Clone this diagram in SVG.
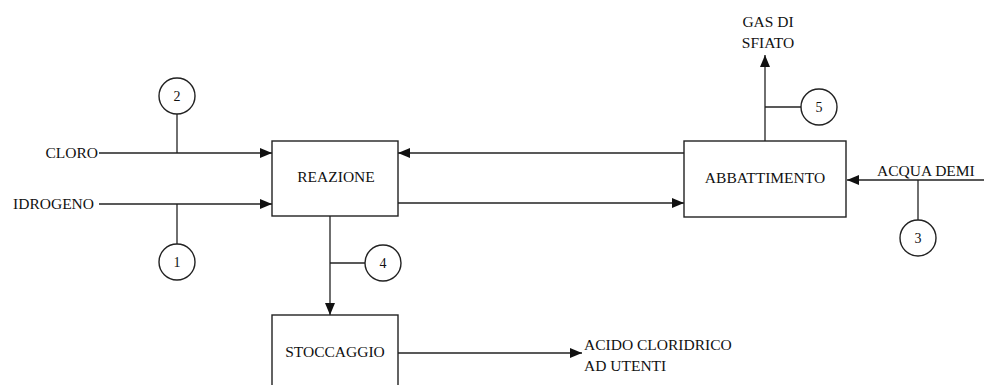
<svg xmlns="http://www.w3.org/2000/svg" width="984" height="385" viewBox="0 0 984 385">
<defs>
<marker id="arr" markerWidth="12" markerHeight="10" refX="12" refY="5" orient="auto" markerUnits="userSpaceOnUse">
<path d="M0,0 L12,5 L0,10 Z" fill="#111"/>
</marker>
<style>
.box{fill:#fff;stroke:#222;stroke-width:1.4}
.ln{fill:none;stroke:#222;stroke-width:1.3}
.circ{fill:#fff;stroke:#222;stroke-width:1.4}
.t{font-family:'Liberation Serif','Times New Roman','DejaVu Serif',serif;font-size:15.5px;fill:#111}
.num{font-size:14px;text-anchor:middle}
.c{text-anchor:middle}
</style>
</defs>
<rect width="984" height="385" fill="#fff"/>
<g id="connectors">
<path class="ln" d="M99,153 H272" marker-end="url(#arr)"/>
<path class="ln" d="M99,204 H272" marker-end="url(#arr)"/>
<path class="ln" d="M177,114 V153"/>
<path class="ln" d="M177,204 V244"/>
<path class="ln" d="M684,153 H398" marker-end="url(#arr)"/>
<path class="ln" d="M398,203 H684" marker-end="url(#arr)"/>
<path class="ln" d="M765,141 V55" marker-end="url(#arr)"/>
<path class="ln" d="M765,107 H801"/>
<path class="ln" d="M984,180 H847" marker-end="url(#arr)"/>
<path class="ln" d="M918,180 V220"/>
<path class="ln" d="M330,216 V315" marker-end="url(#arr)"/>
<path class="ln" d="M330,263 H365"/>
<path class="ln" d="M398,353 H582" marker-end="url(#arr)"/>
</g>
<g class="t" font-family="Liberation Serif, Times New Roman, serif">
<g id="reazione"><rect class="box" x="272" y="141" width="126" height="75"/><text class="c" x="336" y="182">REAZIONE</text></g>
<g id="abbattimento"><rect class="box" x="684" y="141" width="162" height="76"/><text class="c" x="765" y="183">ABBATTIMENTO</text></g>
<g id="stoccaggio"><rect class="box" x="272" y="315" width="126" height="80"/><text class="c" x="335" y="357">STOCCAGGIO</text></g>
<g id="cloro"><text x="98" y="158" text-anchor="end">CLORO</text></g>
<g id="idrogeno"><text x="94" y="209" text-anchor="end">IDROGENO</text></g>
<g id="gas"><text class="c" x="768" y="27">GAS DI</text><text class="c" x="768" y="48">SFIATO</text></g>
<g id="acqua"><text x="877" y="176">ACQUA DEMI</text></g>
<g id="acido"><text x="584" y="350">ACIDO CLORIDRICO</text><text x="584" y="371">AD UTENTI</text></g>
<g id="p1"><circle class="circ" cx="177" cy="262" r="18"/><text class="num" x="177" y="267">1</text></g>
<g id="p2"><circle class="circ" cx="177" cy="96" r="18"/><text class="num" x="177" y="101">2</text></g>
<g id="p3"><circle class="circ" cx="918" cy="238" r="18"/><text class="num" x="918" y="243">3</text></g>
<g id="p4"><circle class="circ" cx="383" cy="263" r="18"/><text class="num" x="383" y="268">4</text></g>
<g id="p5"><circle class="circ" cx="819" cy="107" r="18"/><text class="num" x="819" y="112">5</text></g>
</g>
</svg>
